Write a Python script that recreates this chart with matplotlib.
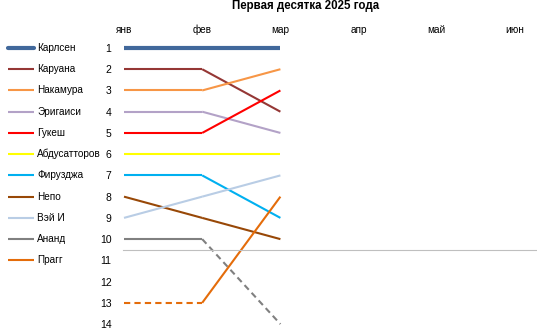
import matplotlib
matplotlib.use("Agg")
import matplotlib.pyplot as plt
import matplotlib.transforms as mtransforms

plt.rcParams['font.family'] = ['Liberation Sans', 'DejaVu Sans']

title = "Первая десятка 2025 года"
months = ["янв", "фев", "мар", "апр", "май", "июн"]
rank_ticks = list(range(1, 15))

players = ["Карлсен", "Каруана", "Накамура", "Эригаиси", "Гукеш", "Абдусатторов",
           "Фируджа", "Непо", "Вэй И", "Ананд", "Прагг"]
legend_labels = ["Карлсен", "Каруана", "Накамура", "Эригаиси", "Гукеш", "Абдусатторов",
                 "Фируза".replace("за", "зджа"), "Непо", "Вэй И", "Ананд", "Прагг"]
ranks = {
    "Карлсен":      [1, 1, 1],
    "Каруана":      [2, 2, 4],
    "Накамура":     [3, 3, 2],
    "Эригаиси":     [4, 4, 5],
    "Гукеш":        [5, 5, 3],
    "Абдусатторов": [6, 6, 6],
    "Фируджа":      [7, 7, 9],
    "Непо":         [8, 9, 10],
    "Вэй И":        [9, 8, 7],
    "Ананд":        [10, 10, 14],
    "Прагг":        [13, 13, 8],
}
# segments drawn dashed (index of segment start) - outside top 10
dashed_segments = {"Ананд": [1], "Прагг": [0]}

colors = {
    "Карлсен": "#41689B",
    "Каруана": "#953735",
    "Накамура": "#F79646",
    "Эригаиси": "#B3A2C7",
    "Гукеш": "#FF0000",
    "Абдусатторов": "#FFFF00",
    "Фируджа": "#00B0F0",
    "Непо": "#984807",
    "Вэй И": "#B9CDE5",
    "Ананд": "#808080",
    "Прагг": "#E46C0A",
}
widths = {p: 1.5 for p in players}
widths["Карлсен"] = 3.0

W, H = 537, 333
fig = plt.figure(figsize=(W / 100, H / 100), dpi=100)
ax = fig.add_axes([124 / W, 0, (515 - 124) / W, 1 - 38 / H])
ax.set_xlim(0, 5)
ax.set_ylim(14.42, 0.53)
for s in ax.spines.values():
    s.set_visible(False)

ax.xaxis.tick_top()
ax.set_xticks(range(len(months)))
ax.set_xticklabels(months, fontsize=7.2)
ax.set_yticks(rank_ticks)
ax.set_yticklabels([str(r) for r in rank_ticks], fontsize=7.5)
ax.tick_params(axis='both', length=0)
ax.tick_params(axis='x', pad=2.5)
ax.tick_params(axis='y', pad=9)

for p in players:
    r = ranks[p]
    for i in range(len(r) - 1):
        ls = (0, (3, 2)) if i in dashed_segments.get(p, []) else '-'
        ax.plot([i, i + 1], [r[i], r[i + 1]], color=colors[p], lw=widths[p],
                ls=ls, solid_capstyle='butt', dash_capstyle='butt', clip_on=False)

# separator between top 10 and the rest
trans_sep = mtransforms.blended_transform_factory(fig.transFigure, ax.transData)
ax.plot([123 / W, 1.0], [10.5, 10.5], color="#BFBFBF", lw=0.8, transform=trans_sep,
        clip_on=False)

# legend
trans_leg = mtransforms.blended_transform_factory(fig.transFigure, ax.transData)
for k, (p, lab) in enumerate(zip(players, legend_labels)):
    y = k + 1
    ax.plot([8 / W, 34 / W], [y, y], color=colors[p], lw=widths[p],
            solid_capstyle='round' if p == "Карлсен" else 'butt',
            transform=trans_leg, clip_on=False)
    ax.text(37 / W, y, lab, transform=trans_leg, fontsize=7.2, va='center', ha='left')

fig.text(306 / W, 1 - 6 / H, title, fontsize=8.3, fontweight='bold', ha='center', va='center')

fig.savefig("out.png", dpi=100)
